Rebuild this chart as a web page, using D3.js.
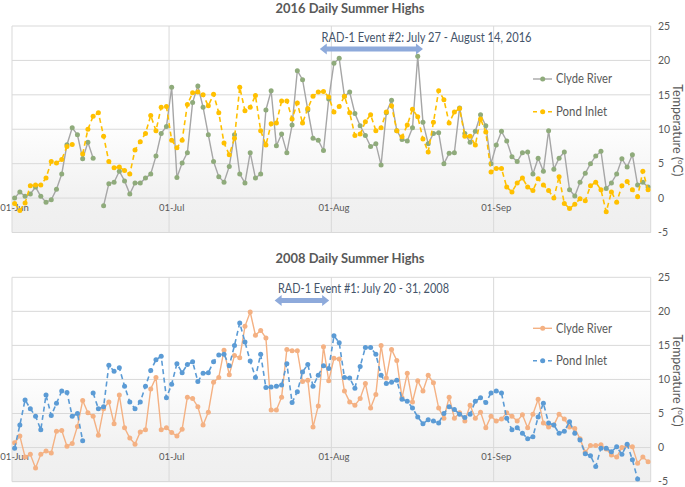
<!DOCTYPE html>
<html><head><meta charset="utf-8">
<script src="https://cdn.jsdelivr.net/npm/d3@7"></script>
<style>body{margin:0;background:#fff}svg{display:block}text{font-family:Lato,"Open Sans",sans-serif}</style>
</head><body><svg id="c" width="685" height="487"></svg>
<script>
const xTickLabels = ["01-Jun","01-Jul","01-Aug","01-Sep"];
const yTicks = [-5,0,5,10,15,20,25];
const seriesNames = ["Clyde River","Pond Inlet"];
const clyde2016 = [0.0,0.9,0.25,0.6,1.6,0.25,-0.6,-0.25,1.3,3.5,7.75,10.2,9.2,5.7,8.1,5.8,null,-1.1,2.1,2.3,3.9,2.5,0.6,2.2,2.2,2.9,3.5,6.1,9.4,10.4,
16.1,3.0,5.1,6.6,13.9,16.3,13.2,9.2,5.3,3.1,2.3,4.6,9.2,3.5,2.2,6.6,2.9,3.5,12.8,15.6,7.6,9.3,6.6,10.6,18.5,17.2,12.8,8.7,8.4,6.9,14.4,
19.6,20.3,14.8,15.4,12.3,10.5,9.1,7.5,7.9,4.8,12.4,14.2,9.8,8.5,8.3,10.2,20.6,11.0,7.9,9.4,9.5,5.0,6.5,6.6,13.1,9.4,8.1,9.7,12.1,10.5,5.0,
7.7,9.7,8.3,6.0,5.3,6.6,6.7,3.5,5.8,3.9,9.8,4.2,5.8,6.7,1.2,0.3,2.3,3.6,5.0,6.1,6.8,1.4,2.2,3.5,5.7,4.5,6.3,1.9,2.3,1.6];
const pond2016 = [-0.8,-1.8,-0.7,1.8,1.9,1.9,2.9,5.3,5.1,5.6,7.5,7.8,null,6.4,10.0,11.9,12.4,9.0,5.3,4.4,4.5,4.0,3.5,7.0,8.2,9.4,12.0,9.8,13.2,13.3,
8.4,7.3,8.4,13.6,15.3,15.4,15.0,13.4,15.1,12.4,8.0,6.3,8.7,16.1,12.7,13.2,14.9,9.8,7.7,10.8,10.9,14.1,14.1,11.5,13.8,10.9,13.0,14.8,15.4,15.5,14.7,
12.5,13.3,14.8,12.4,9.1,9.3,11.1,12.1,9.8,10.2,12.5,13.4,9.8,8.9,10.6,12.9,11.8,8.6,6.7,11.0,15.6,14.3,10.9,12.5,13.0,9.0,9.0,7.7,11.5,9.6,3.8,
4.3,4.3,1.6,0.9,2.2,2.9,1.6,1.1,2.8,1.9,1.1,0.0,3.1,-0.8,-1.5,-0.9,-0.1,-0.4,1.8,2.3,1.2,-2.0,0.9,-0.6,1.8,2.4,1.2,0.2,3.9,1.2];
const clyde2008 = [0.7,1.7,-1.4,-1.0,-3.0,-1.0,-0.5,-0.8,2.4,2.5,0.2,0.6,3.1,6.9,5.1,4.6,1.8,5.7,6.7,3.5,7.7,2.9,1.4,0.5,2.3,2.6,8.6,10.3,2.6,2.9,
2.2,1.7,2.7,7.4,7.2,6.0,3.3,5.2,9.6,10.3,14.3,10.7,13.5,13.2,17.8,19.9,16.5,17.2,16.1,5.5,5.5,7.4,14.4,14.2,14.2,9.7,9.9,3.0,6.1,14.8,9.8,
13.1,13.0,8.3,6.7,6.2,7.2,9.4,5.8,7.8,15.0,10.2,14.4,12.8,7.3,10.9,6.7,9.8,8.3,10.6,9.5,5.8,4.3,7.4,4.3,5.1,3.9,6.2,4.3,5.2,2.9,4.6,
3.9,4.2,5.1,4.6,3.9,4.8,2.9,4.9,7.1,3.6,3.0,3.3,4.9,4.2,3.0,2.8,1.3,-0.7,0.3,0.3,0.4,-0.2,-1.1,-1.4,0.0,0.3,0.1,-2.3,-1.4,-2.1];
const pond2008 = [-0.1,3.3,7.0,5.7,4.6,2.6,7.7,4.7,6.5,8.3,8.1,4.6,5.0,1.0,null,8.0,5.7,6.0,12.1,11.2,11.7,9.0,6.7,5.7,6.7,9.0,11.3,12.9,13.4,7.3,
9.3,12.3,11.0,12.2,12.6,9.7,10.9,11.0,12.6,13.6,13.7,12.0,15.0,18.3,15.5,12.7,10.3,13.7,8.8,8.9,9.0,9.2,12.3,6.6,8.2,11.1,12.2,9.0,10.6,12.0,11.6,
16.4,15.4,10.3,10.2,8.7,11.9,14.7,14.7,13.7,10.6,9.4,9.6,9.9,7.1,6.8,5.8,4.5,3.5,4.1,3.9,3.6,5.0,6.0,5.6,4.9,4.4,4.9,6.8,7.3,6.6,8.0,
8.3,8.0,4.3,2.6,2.9,2.1,1.3,1.6,4.5,6.5,3.6,3.3,2.1,2.4,3.8,2.1,1.1,-0.9,-1.2,-2.8,-0.1,-0.1,-0.6,0.1,-1.0,0.5,-1.8,-4.6,null,null];
const titles = ["2016 Daily Summer Highs","2008 Daily Summer Highs"];
const events = ["RAD-1 Event #2: July 27 - August 14, 2016","RAD-1 Event #1: July 20 - 31, 2008"];
const eventSpans = [[58.8,78.5],[50.2,60.6]]; // days after 01-Jun where the arrow is drawn

const svg = d3.select("#c");
const start = new Date(2000,5,1), end = new Date(2000,9,1);
const x = d3.scaleTime().domain([start,end]).range([12,650.7]);
const days = d3.timeDay.range(start,end);
const mid = i => d3.timeHour.offset(days[i],12);
const monthStarts = d3.timeMonth.range(start,end);

const defs = svg.append("defs");
const grad = defs.append("linearGradient").attr("id","bg").attr("x1",0).attr("y1",0).attr("x2",0).attr("y2",1);
grad.append("stop").attr("offset","0").attr("stop-color","#ffffff");
grad.append("stop").attr("offset","0.45").attr("stop-color","#ffffff");
grad.append("stop").attr("offset","0.84").attr("stop-color","#f1f1f1");
grad.append("stop").attr("offset","1").attr("stop-color","#efefef");

const panels = [
 {top:26, bot:232.5, titleY:8.5, annoX:321.5, annoW:210, annoY:37.5, arrowY:49, legY:[79,111.7],
  series:[{d:clyde2016,line:"#a6a6a6",mk:"#8fab7b",dash:null},{d:pond2016,line:"#ffc000",mk:"#ffc000",dash:"5,3.5"}]},
 {top:277.3, bot:481.6, titleY:258.5, annoX:278, annoW:171, annoY:289, arrowY:300.5, legY:[328.3,360.7],
  series:[{d:clyde2008,line:"#f4b183",mk:"#f4b183",dash:null},{d:pond2008,line:"#5b9bd5",mk:"#5b9bd5",dash:"5,3.5"}]}
];
const legW = [56,51];

panels.forEach((p,pi)=>{
  const y = d3.scaleLinear().domain([-5,25]).range([p.bot,p.top]);
  const g = svg.append("g");
  g.append("rect").attr("x",x.range()[0]).attr("y",p.top).attr("width",x.range()[1]-x.range()[0]).attr("height",p.bot-p.top).attr("fill","url(#bg)");
  g.selectAll(".hg").data(yTicks).join("line").attr("x1",x.range()[0]).attr("x2",x.range()[1])
    .attr("y1",d=>y(d)).attr("y2",d=>y(d)).attr("stroke","#d9d9d9").attr("stroke-width",1);
  g.selectAll(".vg").data(monthStarts).join("line").attr("x1",d=>x(d)).attr("x2",d=>x(d))
    .attr("y1",p.top).attr("y2",p.bot).attr("stroke","#d9d9d9").attr("stroke-width",1);
  g.append("line").attr("x1",x.range()[1]).attr("x2",x.range()[1]).attr("y1",p.top).attr("y2",p.bot).attr("stroke","#d9d9d9");
  g.append("line").attr("x1",x.range()[0]).attr("x2",x.range()[1]).attr("y1",p.bot).attr("y2",p.bot).attr("stroke","#d9d9d9");
  g.selectAll(".yl").data(yTicks).join("text").attr("x",658).attr("y",d=>y(d)).attr("dy","0.35em")
    .attr("font-size",10.5).attr("fill","#595959").text(d=>d);
  g.selectAll(".xl").data(monthStarts).join("text").attr("x",d=>x(d3.timeHour.offset(d,12))).attr("y",y(0)+12.5)
    .attr("text-anchor","middle").attr("font-size",9.5).attr("fill","#595959").text((d,i)=>xTickLabels[i]);
  const at = g.append("text").attr("transform",`translate(673,${(p.top+p.bot)/2+1}) rotate(90)`).attr("text-anchor","middle")
    .attr("font-size",12.5).attr("fill","#595959");
  at.append("tspan").text("Temperature (");
  at.append("tspan").attr("font-size",8).attr("dy",-5).text("o");
  at.append("tspan").attr("dy",5).text("C)");
  g.append("text").attr("x",350).attr("y",p.titleY).attr("dy","0.35em").attr("text-anchor","middle")
    .attr("font-size",13.5).attr("font-weight","bold").attr("fill","#595959")
    .attr("textLength",149).attr("lengthAdjust","spacingAndGlyphs").text(titles[pi]);
  p.series.forEach(s=>{
    const line = d3.line().defined(d=>d!=null).x((d,i)=>x(mid(i))).y(d=>y(d));
    g.append("path").attr("d",line(s.d)).attr("fill","none").attr("stroke",s.line)
      .attr("stroke-width",s.dash?1.6:1.4).attr("stroke-dasharray",s.dash);
    g.selectAll(null).data(s.d.map((v,i)=>[v,i]).filter(d=>d[0]!=null)).join("circle")
      .attr("cx",d=>x(mid(d[1]))).attr("cy",d=>y(d[0])).attr("r",2.5).attr("fill",s.mk);
  });
  const a0 = x(d3.timeHour.offset(start,eventSpans[pi][0]*24)), a1 = x(d3.timeHour.offset(start,eventSpans[pi][1]*24));
  const ay = p.arrowY, hw=2.5, hh=5.5, hl=7;
  g.append("path").attr("fill","#8eaadb").attr("d",
    `M${a0},${ay} L${a0+hl},${ay-hh} L${a0+hl},${ay-hw} L${a1-hl},${ay-hw} L${a1-hl},${ay-hh} L${a1},${ay} L${a1-hl},${ay+hh} L${a1-hl},${ay+hw} L${a0+hl},${ay+hw} L${a0+hl},${ay+hh} Z`);
  g.append("text").attr("x",p.annoX).attr("y",p.annoY).attr("dy","0.35em").attr("font-size",12.5)
    .attr("fill","#44546a").attr("textLength",p.annoW).attr("lengthAdjust","spacingAndGlyphs").text(events[pi]);
  p.series.forEach((s,si)=>{
    const ly = p.legY[si];
    g.append("line").attr("x1",533).attr("x2",552).attr("y1",ly).attr("y2",ly).attr("stroke",s.line)
      .attr("stroke-width",s.dash?1.6:1.4).attr("stroke-dasharray",s.dash?"4,3.5":null);
    g.append("circle").attr("cx",542.7).attr("cy",ly).attr("r",2.5).attr("fill",s.mk);
    g.append("text").attr("x",556).attr("y",ly).attr("dy","0.35em").attr("font-size",12.5).attr("fill","#595959")
      .attr("textLength",legW[si]).attr("lengthAdjust","spacingAndGlyphs").text(seriesNames[si]);
  });
});
</script></body></html>
